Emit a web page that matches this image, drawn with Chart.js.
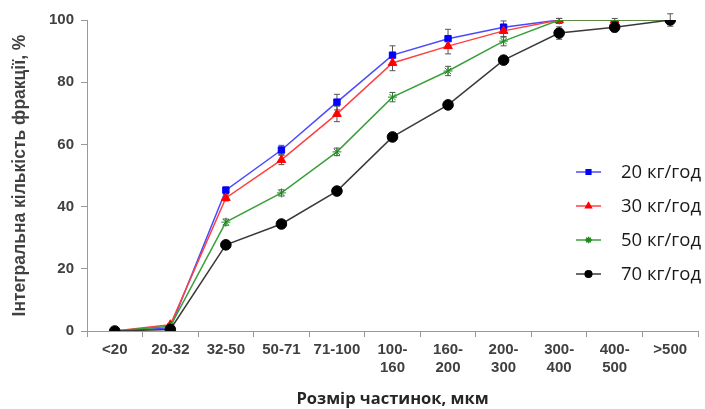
<!DOCTYPE html>
<html><head><meta charset="utf-8">
<script src="https://cdn.jsdelivr.net/npm/chart.js@4/dist/chart.umd.min.js"></script>
<style>html,body{margin:0;padding:0;background:#fff}#wrap{width:705px;height:409px}</style>
</head><body><div id="wrap"><canvas id="c" width="705" height="409"></canvas></div>
<script>
const categories = ['<20','20-32','32-50','50-71','71-100',['100-','160'],['160-','200'],['200-','300'],['300-','400'],['400-','500'],'>500'];
const seriesNames = ['20 кг/год','30 кг/год','50 кг/год','70 кг/год'];
const s20 = [0, 1, 45.3, 58.2, 73.6, 88.7, 94, 97.7, 100, 100, 100];
const s30 = [0, 2, 42.8, 55, 69.8, 86.2, 91.6, 96.5, 100, 100, 100];
const s50 = [0, 1.5, 35, 44.4, 57.6, 75.2, 83.6, 93.2, 100, 100, 100];
const s70 = [0, 0.5, 27.7, 34.4, 45, 62.4, 72.7, 87.1, 95.8, 97.7, 100];
const e20 = [0, 0, 1, 1.5, 2.5, 3, 3, 2, 0.5, 0.5, 0];
const e30 = [0, 0, 1, 1.5, 2.5, 2.5, 2.5, 2, 0.5, 0, 0];
const e50 = [0, 0, 1, 1, 1.2, 1.5, 1.5, 1.5, 0.5, 0, 0];
const e70 = [0, 0, 0.5, 0.5, 0.5, 0.5, 0.5, 1, 2, 1.5, 2];
const yTicks = [0, 20, 40, 60, 80, 100];

const styles = [
  {line:'#4a4aff', fill:'#0000ff', pt:'rect', r:4.5},
  {line:'#ff4040', fill:'#ff0000', pt:'triangle', r:5},
  {line:'#3aa03a', fill:'#1e8a1e', pt:'star', r:4.5},
  {line:'#3a3a3a', fill:'#000000', pt:'circle', r:5.3}
];
const values = [s20, s30, s50, s70];
const errs = [e20, e30, e50, e70];

const errorBars = {
  id:'errorBars',
  beforeDatasetsDraw(chart){
    const ctx = chart.ctx, y = chart.scales.y;
    ctx.save();
    ctx.lineWidth = 1;
    ctx.strokeStyle = '#555';
    chart.data.datasets.forEach((ds, di) => {
      const meta = chart.getDatasetMeta(di);
      meta.data.forEach((p, i) => {
        const e = ds.errors[i];
        if (!e) return;
        const y1 = y.getPixelForValue(ds.data[i] + e), y2 = y.getPixelForValue(ds.data[i] - e);
        ctx.beginPath();
        ctx.moveTo(p.x, y1); ctx.lineTo(p.x, y2);
        ctx.moveTo(p.x - 3, y1); ctx.lineTo(p.x + 3, y1);
        ctx.moveTo(p.x - 3, y2); ctx.lineTo(p.x + 3, y2);
        ctx.stroke();
      });
    });
    ctx.restore();
  }
};

const customLegend = {
  id:'customLegend',
  afterDraw(chart){
    const ctx = chart.ctx;
    const rows = [172, 206, 240, 274];
    ctx.save();
    chart.data.datasets.forEach((ds, i) => {
      const yy = rows[i];
      ctx.strokeStyle = ds.borderColor; ctx.lineWidth = 1.5;
      ctx.beginPath(); ctx.moveTo(576, yy); ctx.lineTo(601, yy); ctx.stroke();
      ctx.fillStyle = ds.pointBackgroundColor; ctx.strokeStyle = ds.pointBorderColor;
      Chart.helpers.drawPoint(ctx, {pointStyle: ds.pointStyle, radius: 3.3, borderWidth: 1, rotation: 0}, 588.5, yy);
      ctx.fillStyle = '#1a1a1a';
      ctx.font = '18.5px "Open Sans"';
      ctx.textBaseline = 'middle';
      ctx.fillText(ds.label, 621, yy + 1);
    });
    ctx.restore();
  }
};

const datasets = seriesNames.map((name, i) => ({
  label: name,
  data: values[i],
  errors: errs[i],
  borderColor: styles[i].line,
  borderWidth: 1.5,
  pointStyle: styles[i].pt,
  pointRadius: styles[i].r,
  pointBackgroundColor: styles[i].fill,
  pointBorderColor: styles[i].fill,
  pointBorderWidth: 1,
  tension: 0,
  fill: false,
  order: 3 - i
}));

new Chart(document.getElementById('c'), {
  type: 'line',
  data: { labels: categories, datasets },
  options: {
    responsive: false,
    animation: false,
    devicePixelRatio: 1,
    layout: { padding: { left: 0, right: 7, top: 20, bottom: 0 } },
    plugins: { legend: { display: false }, tooltip: { enabled: false } },
    scales: {
      x: {
        offset: true,
        grid: { display: true, drawOnChartArea: false, offset: true, tickLength: 6, color: '#999' },
        border: { color: '#999', width: 1 },
        ticks: { color: '#404040', font: { family: '"Liberation Sans", Arial', size: 15, weight: 'bold', lineHeight: 1.2 }, maxRotation: 0, autoSkip: false, padding: 4 },
        title: { display: true, text: 'Розмір частинок, мкм', color: '#262626', font: { family: '"Open Sans"', size: 16.5, weight: 'bold' }, padding: { top: 0, bottom: 0 } },
        afterFit(s){ s.height = 78; }
      },
      y: {
        min: 0, max: 100,
        afterBuildTicks(s){ s.ticks = yTicks.map(v => ({ value: v })); },
        grid: { display: true, drawOnChartArea: false, tickLength: 6, color: '#999' },
        border: { color: '#999', width: 1 },
        ticks: { color: '#404040', font: { family: '"Liberation Sans", Arial', size: 15, weight: 'bold' }, padding: 7 },
        title: { display: true, text: 'Інтегральна кількість фракції, %', color: '#404040', font: { family: '"Liberation Sans", Arial', size: 17.5, weight: 'bold' }, padding: { top: 10, bottom: 4 } },
        afterFit(s){ s.width = 87; }
      }
    }
  },
  plugins: [errorBars, customLegend]
});
</script>
</body></html>
